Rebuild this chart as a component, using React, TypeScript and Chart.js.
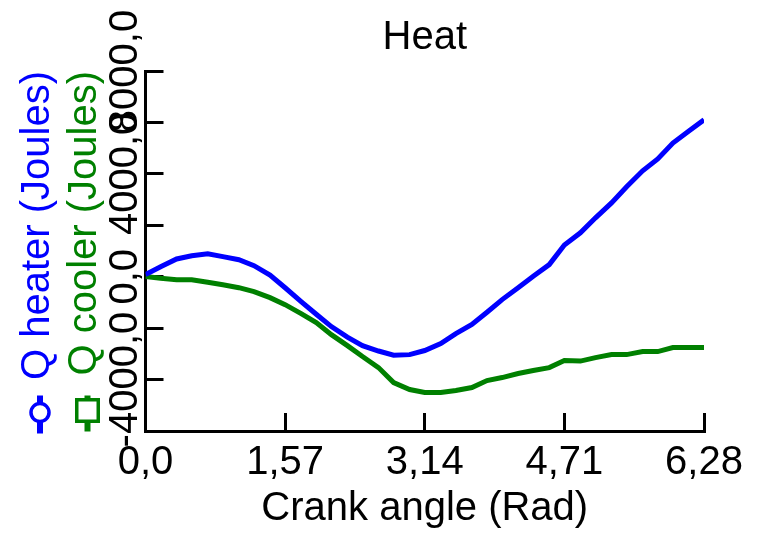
import React, { useEffect, useRef } from "react";
import { Chart, registerables } from "chart.js";

Chart.register(...registerables);

const crankAngle = [
  0, 0.17, 0.35, 0.52, 0.7, 0.87, 1.05, 1.22, 1.4, 1.57, 1.75, 1.92, 2.09, 2.27,
  2.44, 2.62, 2.79, 2.97, 3.14, 3.32, 3.49, 3.67, 3.84, 4.01, 4.19, 4.36, 4.54,
  4.71, 4.89, 5.06, 5.24, 5.41, 5.59, 5.76, 5.93, 6.11, 6.28,
];

const qHeater = [
  80, 390, 690, 815, 895, 780, 660, 430, 60, -430, -970, -1460, -1940, -2350,
  -2680, -2890, -3050, -3030, -2870, -2600, -2210, -1860, -1380, -890, -430, 20,
  470, 1230, 1710, 2290, 2870, 3500, 4120, 4580, 5200, 5670, 6100,
];

const qCooler = [
  12, -58, -116, -116, -214, -311, -427, -583, -815, -1087, -1437, -1786, -2252,
  -2679, -3106, -3534, -4116, -4388, -4504, -4504, -4427, -4310, -4038, -3922,
  -3766, -3650, -3534, -3262, -3281, -3145, -3029, -3029, -2912, -2912, -2757,
  -2757, -2757,
];

const xTickValues = [0, 1.57, 3.14, 4.71, 6.28];
const xTickLabels = ["0,0", "1,57", "3,14", "4,71", "6,28"];
const yTickValues = [-4000, 0, 4000, 8000];
const yTickLabels = ["-4000,0", "0,0", "4000,0", "8000,0"];

const FONT = "'Liberation Sans', Arial, sans-serif";
const BLUE = "#0000ff";
const GREEN = "#008000";

const markerPlugin = {
  id: "axisMarkers",
  afterDraw(chart: any) {
    const ctx = chart.ctx;
    const s1 = chart.scales.y1;
    const s = chart.scales.y;
    const bottom = s.bottom;
    ctx.save();
    // blue circle marker
    const bx = s1.left + 40;
    const by = bottom - 18.5;
    ctx.strokeStyle = BLUE;
    ctx.lineWidth = 6;
    ctx.beginPath();
    ctx.moveTo(bx, by - 17);
    ctx.lineTo(bx, by + 21);
    ctx.stroke();
    ctx.beginPath();
    ctx.arc(bx, by, 9, 0, Math.PI * 2);
    ctx.fillStyle = "#ffffff";
    ctx.fill();
    ctx.lineWidth = 3.5;
    ctx.stroke();
    // green square marker
    const gx = s.left + 26.5;
    const gy = bottom - 20.5;
    ctx.strokeStyle = GREEN;
    ctx.lineWidth = 6;
    ctx.beginPath();
    ctx.moveTo(gx, gy - 15);
    ctx.lineTo(gx, gy + 21);
    ctx.stroke();
    ctx.fillStyle = "#ffffff";
    ctx.fillRect(gx - 10.75, gy - 10.75, 21.5, 21.5);
    ctx.lineWidth = 3.5;
    ctx.strokeRect(gx - 10.75, gy - 10.75, 21.5, 21.5);
    ctx.restore();
  },
};

export default function App() {
  const ref = useRef<HTMLCanvasElement>(null);

  useEffect(() => {
    const canvas = ref.current;
    if (!canvas) return;
    const tickFont = { family: FONT, size: 40, lineHeight: 1.2 };
    const chart = new Chart(canvas, {
      type: "line",
      data: {
        datasets: [
          {
            label: "Q heater (Joules)",
            data: crankAngle.map((x, i) => ({ x, y: qHeater[i] })),
            borderColor: BLUE,
            borderWidth: 5,
            pointRadius: 0,
            tension: 0,
            yAxisID: "y1",
          },
          {
            label: "Q cooler (Joules)",
            data: crankAngle.map((x, i) => ({ x, y: qCooler[i] })),
            borderColor: GREEN,
            borderWidth: 5,
            pointRadius: 0,
            tension: 0,
            yAxisID: "y",
          },
        ],
      },
      options: {
        animation: false,
        responsive: false,
        devicePixelRatio: 1,
        layout: { padding: { left: 0, top: 0, right: 60, bottom: 0 } },
        plugins: {
          legend: { display: false },
          tooltip: { enabled: false },
          title: {
            display: true,
            text: "Heat",
            color: "#000",
            fullSize: false,
            font: { family: FONT, size: 40, weight: "normal", lineHeight: 1.2 },
            padding: { top: 14, bottom: 9 },
          },
        },
        scales: {
          x: {
            type: "linear",
            min: 0,
            max: 6.28,
            afterBuildTicks: (scale: any) => {
              scale.ticks = xTickValues.map((v) => ({ value: v }));
            },
            afterFit: (scale: any) => {
              scale.height = 103;
            },
            ticks: {
              color: "#000",
              font: { family: FONT, size: 40, lineHeight: 2.29 },
              padding: 4,
              maxRotation: 0,
              minRotation: 0,
              autoSkip: false,
              callback: (v: any) => {
                const i = xTickValues.indexOf(Number(v));
                return i >= 0 ? xTickLabels[i] : "";
              },
            },
            grid: {
              display: true,
              drawOnChartArea: false,
              drawTicks: true,
              tickLength: -18,
              color: "#000",
              lineWidth: 3,
            },
            border: { display: true, color: "#000", width: 3 },
            title: {
              display: true,
              text: "Crank angle (Rad)",
              color: "#000",
              font: { family: FONT, size: 40, lineHeight: 1.2 },
              padding: { top: 0, bottom: 1 },
            },
          },
          y: {
            type: "linear",
            position: "left",
            weight: 0,
            min: -6000,
            max: 8000,
            afterFit: (scale: any) => {
              scale.width = 84.5;
            },
            ticks: {
              stepSize: 2000,
              color: "#000",
              font: tickFont,
              minRotation: 90,
              maxRotation: 90,
              crossAlign: "center",
              padding: -30,
              autoSkip: false,
              callback: (v: any) => {
                const i = yTickValues.indexOf(Number(v));
                return i >= 0 ? yTickLabels[i] : "";
              },
            },
            grid: {
              display: true,
              drawOnChartArea: false,
              drawTicks: true,
              tickLength: -18,
              color: "#000",
              lineWidth: 3,
            },
            border: { display: true, color: "#000", width: 3 },
            title: {
              display: true,
              text: "Q cooler (Joules)",
              color: GREEN,
              align: "end",
              font: { family: FONT, size: 40, lineHeight: 1.2 },
              padding: { top: 0, bottom: 0 },
            },
          },
          y1: {
            type: "linear",
            position: "left",
            weight: 1,
            min: -6000,
            max: 8000,
            afterFit: (scale: any) => {
              scale.width = 61;
            },
            ticks: { display: false },
            grid: { display: false, drawTicks: false },
            border: { display: false },
            title: {
              display: true,
              text: "Q heater (Joules)",
              color: BLUE,
              align: "end",
              font: { family: FONT, size: 40, lineHeight: 1.2 },
              padding: { top: 14, bottom: 0 },
            },
          },
        },
      },
      plugins: [markerPlugin],
    } as any);
    return () => chart.destroy();
  }, []);

  return (
    <div style={{ position: "absolute", left: 0, top: 0, width: 764, height: 534, background: "#fff" }}>
      <canvas ref={ref} width={764} height={534} style={{ display: "block" }} />
    </div>
  );
}
